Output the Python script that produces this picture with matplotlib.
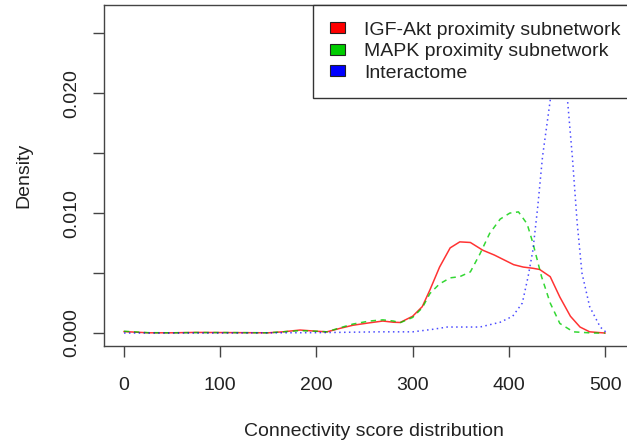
import matplotlib
matplotlib.use("Agg")
import matplotlib.pyplot as plt
from matplotlib.patches import Patch

plt.rcParams['font.family'] = ['Liberation Sans', 'DejaVu Sans']

# density estimates read along the score axis
igf_x = [0, 10, 25, 50, 75, 100, 125, 150, 165, 183, 200, 211, 225, 238, 255, 269, 280, 287,
         300, 310, 318, 328, 339, 349, 360, 373, 385, 395, 405, 415, 425, 432, 443, 453, 464,
         474, 484, 500]
igf_y = [0.00012, 0.00008, 0.00002, 0.00002, 0.00005, 0.00004, 0.00003, 0.00002, 0.0001,
         0.00025, 0.00015, 0.0001, 0.0004, 0.00065, 0.00085, 0.001, 0.0009, 0.00088,
         0.0014, 0.0022, 0.0036, 0.0055, 0.0071, 0.0076, 0.00755, 0.0069, 0.0065, 0.0061,
         0.0057, 0.0055, 0.0054, 0.0053, 0.0047, 0.0030, 0.0014, 0.0005, 0.0001, 0.0]

mapk_x = [0, 10, 25, 50, 75, 100, 125, 150, 165, 183, 200, 211, 225, 238, 255, 269, 280, 287,
          300, 310, 318, 328, 339, 349, 360, 370, 380, 391, 401, 410, 419, 425, 434, 443, 453,
          467, 487, 500]
mapk_y = [0.00015, 0.0001, 0.00003, 0.00002, 0.00004, 0.00004, 0.00003, 0.00002, 0.0001,
          0.0002, 0.00015, 0.0001, 0.00045, 0.00075, 0.001, 0.0011, 0.001, 0.00086,
          0.0013, 0.0021, 0.0033, 0.0041, 0.0046, 0.0047, 0.0051, 0.0066, 0.0083, 0.0095,
          0.0100, 0.0101, 0.0091, 0.0075, 0.0047, 0.0025, 0.0008, 0.0001, 0.0, 0.0]

inter_x = [0, 100, 200, 266, 300, 320, 336, 370, 391, 404, 414, 420, 425, 430, 435, 443, 447,
           452, 457, 461, 466, 471, 476, 484, 495, 502]
inter_y = [0.0, 0.0, 0.00003, 0.0001, 0.0001, 0.0003, 0.0005, 0.0005, 0.0009, 0.0014, 0.0025,
           0.0047, 0.0069, 0.0105, 0.0147, 0.0194, 0.024, 0.0272, 0.024, 0.0194, 0.0147,
           0.0092, 0.005, 0.0022, 0.0005, 0.0]

labels = ["IGF-Akt proximity subnetwork", "MAPK proximity subnetwork", "Interactome"]
colors = ["#FF0000", "#00CD00", "#0000FF"]

fig = plt.figure(figsize=(6.27, 4.45), dpi=100)
ax = fig.add_axes([0.1659, 0.2225, 0.862, 0.7663])

ax.plot(igf_x, igf_y, color=colors[0], lw=1.1, alpha=0.8)
ax.plot(mapk_x, mapk_y, color=colors[1], lw=1.1, alpha=0.8, dashes=(3.5, 3))
ax.plot(inter_x, inter_y, color=colors[2], lw=1.1, alpha=0.7, dashes=(1, 2.2))

ax.set_xlim(-20.8, 541)
ax.set_ylim(-0.00108, 0.02735)

ink = "#222222"
for side in ax.spines.values():
    side.set_color("#444444")
    side.set_linewidth(1.0)

ax.set_xticks([0, 100, 200, 300, 400, 500])
ax.set_yticks([0.0, 0.005, 0.010, 0.015, 0.020, 0.025])
ax.set_yticklabels(["0.000", "", "0.010", "", "0.020", ""])
ax.tick_params(axis='both', direction='out', length=8, width=1.0, color="#444444",
               labelsize=14, labelcolor=ink)
ax.tick_params(axis='x', pad=14)
ax.tick_params(axis='y', pad=9)
for t in ax.get_yticklabels():
    t.set_rotation(90)
    t.set_va('center')

ax.set_xlabel("Connectivity score distribution", fontsize=14, color=ink, labelpad=21)
ax.set_ylabel("Density", fontsize=14, color=ink, labelpad=22)

handles = [Patch(facecolor=c, edgecolor="#222222", linewidth=0.8) for c in colors]
leg = ax.legend(handles, labels, loc='upper left', mode='expand',
                bbox_to_anchor=(0.3867, 0.727, 0.6133, 0.273), borderaxespad=0,
                fontsize=14, frameon=True, fancybox=False, framealpha=1,
                edgecolor="#333333", handlelength=0.77, handleheight=0.52,
                handletextpad=1.0, labelspacing=0.23, borderpad=0.86)
leg.get_frame().set_linewidth(1.0)
for t in leg.get_texts():
    t.set_color(ink)

fig.savefig("out.png", dpi=100)
